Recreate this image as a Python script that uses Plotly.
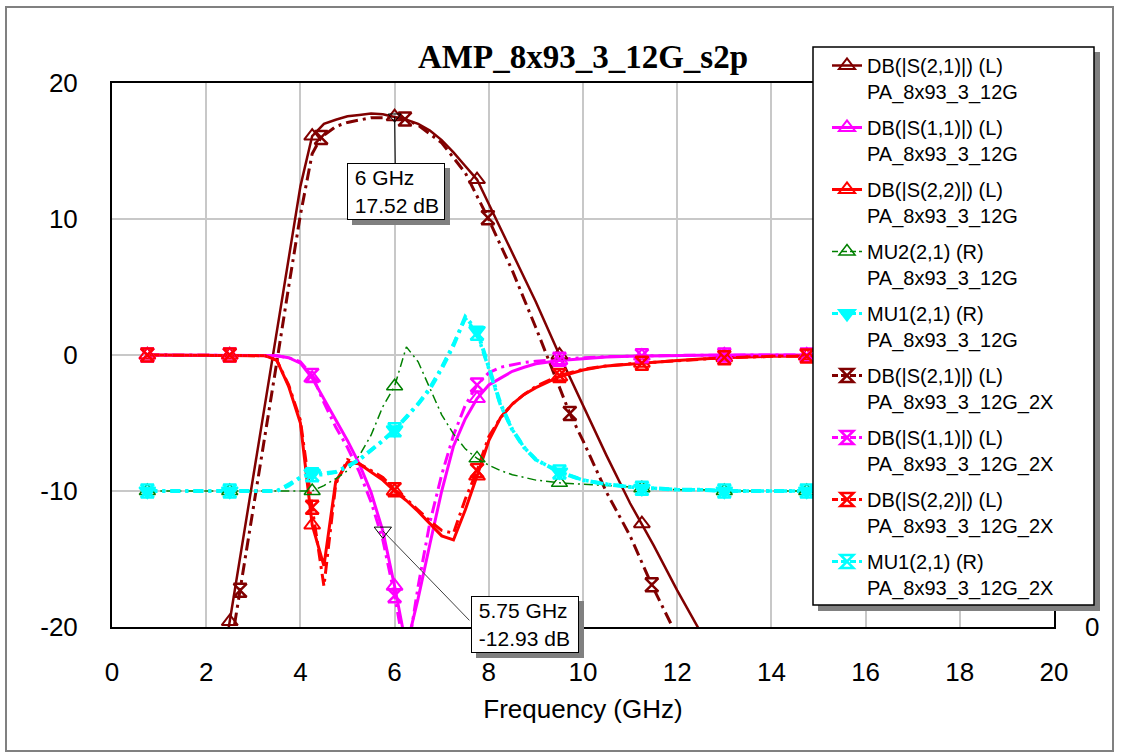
import plotly.graph_objects as go

# ---------------- data ----------------
F = [0.75, 1.5, 2.0, 2.25, 2.5, 2.75, 3.0, 3.25, 3.5, 3.75,
     4.0, 4.25, 4.5, 4.75, 5.0, 5.25, 5.5, 5.75, 6.0, 6.25,
     6.5, 6.75, 7.0, 7.25, 7.5, 7.75, 8.0, 8.25, 8.5, 8.75,
     9.0, 9.5, 10.0, 10.5, 11.0, 11.25, 11.5, 12.0, 12.5, 13.0,
     14.0, 14.75, 16.0, 16.5, 18.0, 18.25, 20.0]
MARK_F = [0.75, 2.5, 4.25, 6.0, 7.75, 9.5, 11.25, 13.0, 14.75, 16.5, 18.25, 20.0]

S21 = [-60, -42, -30, -24.9, -19.6, -14.3, -9.0, -3.7, 1.5, 6.8,
       12.4, 16.1, 17.0, 17.3, 17.55, 17.65, 17.75, 17.7, 17.52, 17.3,
       17.0, 16.5, 15.8, 14.9, 13.9, 12.9, 11.1, 9.3, 7.6, 5.75,
       3.9, 0.0, -3.7, -7.4, -10.9, -12.4, -14.0, -17.3, -20.5, -23.5,
       -29, -33, -38, -40, -45, -46, -50]
S11 = [0.0, 0.0, 0.0, 0.0, 0.0, 0.0, 0.0, 0.0, -0.05, -0.2,
       -0.6, -1.7, -3.2, -4.8, -6.3, -8.0, -10.1, -12.93, -17.0, -21.5,
       -17.9, -13.9, -10.0, -6.7, -4.7, -3.2, -2.2, -1.7, -1.2, -0.9,
       -0.65, -0.4, -0.25, -0.15, -0.1, -0.08, -0.06, -0.04, -0.02, 0.0,
       0.0, 0.0, 0.0, 0.0, 0.0, 0.0, 0.0]
S22 = [0.0, 0.0, 0.0, 0.0, 0.0, 0.0, 0.0, -0.05, -0.4, -2.3,
       -5.0, -12.5, -15.5, -9.3, -7.9, -8.0, -8.6, -9.2, -10.0, -10.7,
       -11.5, -12.4, -13.3, -13.6, -11.4, -8.9, -6.3, -4.6, -3.6, -2.9,
       -2.4, -1.6, -1.1, -0.8, -0.65, -0.6, -0.5, -0.4, -0.3, -0.2,
       -0.1, -0.08, -0.05, -0.04, -0.02, -0.02, 0.0]
MU2 = [1.0, 1.0, 1.0, 1.0, 1.0, 1.0, 1.0, 1.0, 1.0, 1.0,
       1.0, 1.0, 1.04, 1.09, 1.15, 1.26, 1.41, 1.62, 1.77, 2.06,
       1.95, 1.75, 1.56, 1.42, 1.31, 1.24, 1.19, 1.15, 1.12, 1.10,
       1.08, 1.06, 1.05, 1.04, 1.03, 1.02, 1.02, 1.01, 1.01, 1.0,
       1.0, 1.0, 1.0, 1.0, 1.0, 1.0, 1.0]
MU1 = [1.0, 1.0, 1.0, 1.0, 1.0, 1.0, 1.0, 1.0, 1.0, 1.04,
       1.10, 1.13, 1.13, 1.14, 1.18, 1.23, 1.30, 1.37, 1.45, 1.54,
       1.64, 1.75, 1.90, 2.07, 2.28, 2.18, 1.92, 1.64, 1.45, 1.32,
       1.23, 1.14, 1.08, 1.05, 1.03, 1.02, 1.02, 1.01, 1.01, 1.0,
       1.0, 1.0, 1.0, 1.0, 1.0, 1.0, 1.0]
S11_2X = [0.0, 0.0, 0.0, 0.0, 0.0, 0.0, 0.0, 0.0, -0.05, -0.2,
          -0.5, -1.5, -3.5, -5.3, -6.8, -8.6, -10.8, -13.6, -17.7, -22.5,
          -17.0, -12.3, -8.8, -5.9, -3.7, -2.2, -1.3, -0.9, -0.7, -0.55,
          -0.45, -0.32, -0.2, -0.12, -0.08, -0.06, -0.05, -0.03, -0.02, 0.0,
          0.0, 0.0, 0.0, 0.0, 0.0, 0.0, 0.0]
S22_2X = [0.0, 0.0, 0.0, 0.0, 0.0, 0.0, 0.0, -0.05, -0.4, -2.2,
          -4.8, -11.2, -17.0, -9.5, -7.7, -8.0, -8.5, -9.0, -9.9, -10.6,
          -11.4, -12.2, -12.9, -13.1, -10.6, -8.5, -6.0, -4.6, -3.6, -2.9,
          -2.3, -1.5, -1.05, -0.8, -0.65, -0.6, -0.5, -0.4, -0.3, -0.2,
          -0.1, -0.08, -0.05, -0.04, -0.02, -0.02, 0.0]
MU1_2X = [1.0, 1.0, 1.0, 1.0, 1.0, 1.0, 1.0, 1.0, 1.0, 1.05,
          1.10, 1.12, 1.12, 1.14, 1.18, 1.23, 1.30, 1.37, 1.45, 1.54,
          1.64, 1.76, 1.91, 2.08, 2.27, 2.16, 1.90, 1.63, 1.45, 1.32,
          1.23, 1.14, 1.08, 1.05, 1.03, 1.02, 1.02, 1.01, 1.01, 1.0,
          1.0, 1.0, 1.0, 1.0, 1.0, 1.0, 1.0]

F2 = [0.97, 1.5, 2.0, 2.25, 2.5, 2.72, 3.0, 3.25, 3.5, 3.75,
      4.0, 4.25, 4.44, 4.75, 5.0, 5.5, 6.0, 6.22, 6.5, 7.0,
      7.5, 7.98, 8.5, 9.0, 9.5, 9.72, 10.0, 10.5, 11.0, 11.46,
      12.0, 12.5, 13.2, 14.94, 16.68, 18.42, 20.0]
MARK_F2 = [0.97, 2.72, 4.44, 6.22, 7.98, 9.72, 11.46, 13.2, 14.94, 16.68, 18.42]
S21_2X = [-58, -45, -33, -27.5, -22.0, -17.3, -11.5, -6.0, -0.5, 5.0,
          10.3, 14.8, 16.0, 16.8, 17.1, 17.45, 17.45, 17.35, 16.9, 15.6,
          13.4, 10.1, 6.2, 2.0, -2.3, -4.3, -6.3, -10.1, -13.3, -16.9,
          -20.7, -24, -29, -37, -43, -48, -52]

Y_TICKS = [-20, -10, 0, 10, 20]
Y_TICK_TEXT = ["-20", "-10", "0", "10", "20"]
Y2_TICKS = [0]
Y2_TICK_TEXT = ["0"]

LEG_TAIL = "PA_8x93_3_12G"
LEG_TAIL_2X = "PA_8x93_3_12G_2X"

DARKRED = "#800000"
MAGENTA = "#FF00FF"
RED = "#FF0000"
GREEN = "#008000"
CYAN = "#00FFFF"

FONT = "Arial, 'Liberation Sans', sans-serif"

fig = go.Figure()

series = [
    # name, x, y, markx, color, width, dash, symbol, msize, mlw, axis
    ("DB(|S(2,1)|) (L)<br>" + LEG_TAIL, F, S21, MARK_F, DARKRED, 2.5, "solid", "triangle-up-open", 14, 2, "y"),
    ("DB(|S(1,1)|) (L)<br>" + LEG_TAIL, F, S11, MARK_F, MAGENTA, 3, "solid", "triangle-up-open", 14, 2, "y"),
    ("DB(|S(2,2)|) (L)<br>" + LEG_TAIL, F, S22, MARK_F, RED, 3, "solid", "triangle-up-open", 14, 2, "y"),
    ("MU2(2,1) (R)<br>" + LEG_TAIL, F, MU2, MARK_F, GREEN, 1.5, "9px,4px,2px,4px", "triangle-up-open", 14, 1.5, "y2"),
    ("MU1(2,1) (R)<br>" + LEG_TAIL, F, MU1, MARK_F, CYAN, 4, "10px,5px,3px,5px", "triangle-down", 14, 2, "y2"),
    ("DB(|S(2,1)|) (L)<br>" + LEG_TAIL_2X, F2, S21_2X, MARK_F2, DARKRED, 3, "12px,5px,3px,5px", "hourglass-open", 13, 2.5, "y"),
    ("DB(|S(1,1)|) (L)<br>" + LEG_TAIL_2X, F, S11_2X, MARK_F, MAGENTA, 3, "12px,5px,3px,5px", "hourglass-open", 13, 2.5, "y"),
    ("DB(|S(2,2)|) (L)<br>" + LEG_TAIL_2X, F, S22_2X, MARK_F, RED, 3, "12px,5px,3px,5px", "hourglass-open", 13, 2.5, "y"),
    ("MU1(2,1) (R)<br>" + LEG_TAIL_2X, F, MU1_2X, MARK_F, CYAN, 3.5, "10px,5px,3px,5px", "hourglass-open", 13, 2.5, "y2"),
]

# lines
for (name, x, y, mx, col, w, dash, sym, ms, mlw, ax) in series:
    fig.add_trace(go.Scatter(x=x, y=y, mode="lines", yaxis=ax, showlegend=False,
                             line=dict(color=col, width=w, dash=dash), hoverinfo="skip"))
# markers
for (name, x, y, mx, col, w, dash, sym, ms, mlw, ax) in series:
    xm = [xv for xv in x if xv in mx]
    ym = [y[i] for i, xv in enumerate(x) if xv in mx]
    fig.add_trace(go.Scatter(x=xm, y=ym, mode="markers", yaxis=ax, showlegend=False,
                             marker=dict(symbol=sym, size=ms, color=col,
                                         line=dict(color=col, width=mlw)),
                             hoverinfo="skip"))
# legend entries
for k, (name, x, y, mx, col, w, dash, sym, ms, mlw, ax) in enumerate(series):
    fig.add_trace(go.Scatter(x=[None], y=[None], mode="lines+markers", name=name, yaxis=ax,
                             legendgroup=str(k),
                             line=dict(color=col, width=w if w < 3.5 else 3,
                                       dash=dash if dash == "solid" else "6px,3px"),
                             marker=dict(symbol=sym, size=ms, color=col,
                                         line=dict(color=col, width=mlw))))

# marker readouts
i6 = F.index(6.0)
i575 = F.index(5.75)
fig.add_trace(go.Scatter(x=[F[i6]], y=[S21[i6]], mode="markers", showlegend=False,
                         marker=dict(symbol="triangle-down-open", size=11, color="black",
                                     line=dict(color="black", width=1))))
fig.add_trace(go.Scatter(x=[F[i575]], y=[S11[i575]], mode="markers", showlegend=False,
                         marker=dict(symbol="triangle-down-open", size=15, color="black",
                                     line=dict(color="black", width=1))))

txt1 = f"&nbsp;{F[i6]:g} GHz<br>&nbsp;{S21[i6]:.2f} dB"
txt2 = f"&nbsp;{F[i575]:g} GHz<br>&nbsp;{S11[i575]:.2f} dB"

annots = []
# (x, y, offset x, offset y, box width, text)
boxes = [(F[i6], S21[i6], 1, 75, 94, txt1), (F[i575], S11[i575], 142, 94, 104, txt2)]
for (xv, yv, axp, ayp, bw, txt) in boxes:
    # shadow box (no text)
    annots.append(dict(x=xv, y=yv, xref="x", yref="y", text=" ", showarrow=True,
                       arrowcolor="rgba(0,0,0,0)", ax=axp + 5, ay=ayp + 5, width=bw, height=53,
                       bgcolor="#808080", bordercolor="#808080", borderwidth=1, borderpad=1))
annots.append(dict(x=F[i575], y=S11[i575], xref="x", yref="y", text="", showarrow=True, arrowhead=0,
                   arrowcolor="#404040", arrowwidth=1, ax=88, ay=91))
for (xv, yv, axp, ayp, bw, txt) in boxes:
    annots.append(dict(x=xv, y=yv, xref="x", yref="y", text=txt, showarrow=True, arrowhead=0,
                       arrowcolor="black" if axp < 10 else "rgba(0,0,0,0)", arrowwidth=1,
                       ax=axp, ay=ayp, width=bw, height=53, align="left", valign="middle",
                       bgcolor="white", bordercolor="black", borderwidth=1, borderpad=1,
                       font=dict(family=FONT, size=21, color="black")))

L, R, T, B = 112, 68, 83, 126
W, H = 1122, 753
pw, ph = W - L - R, H - T - B


def px(xp):
    return (xp - L) / pw


def py(yp):
    return (H - B - yp) / ph


shapes = [
    dict(type="rect", xref="paper", yref="paper", x0=px(6), x1=px(1113), y0=py(751), y1=py(7),
         line=dict(color="#808080", width=2), layer="below"),
    dict(type="rect", xref="paper", yref="paper", x0=px(818), x1=px(1100), y0=py(611), y1=py(52),
         fillcolor="#808080", line=dict(width=0), layer="above"),
    dict(type="rect", xref="paper", yref="paper", x0=px(813), x1=px(1094), y0=py(605), y1=py(47),
         fillcolor="white", line=dict(color="black", width=1.5), layer="above"),
]

fig.update_layout(
    width=W, height=H,
    margin=dict(l=L, r=R, t=T, b=B, pad=0),
    paper_bgcolor="white", plot_bgcolor="white",
    font=dict(family=FONT, size=20, color="black"),
    title=dict(text="<b>AMP_8x93_3_12G_s2p</b>", x=0.5, xref="paper", xanchor="center",
               y=1 - 56 / H, yanchor="middle",
               font=dict(family="'Times New Roman', 'Liberation Serif', serif", size=33, color="black")),
    xaxis=dict(range=[0, 20], dtick=2, showgrid=True, gridcolor="#c8c8c8", gridwidth=1.5,
               zeroline=False, showline=True, linecolor="black", linewidth=2, mirror=True,
               ticks="", ticklabelstandoff=21, tickfont=dict(size=26),
               title=dict(text="Frequency (GHz)", font=dict(size=26), standoff=14)),
    yaxis=dict(range=[-20, 20], tickvals=Y_TICKS, ticktext=Y_TICK_TEXT, showgrid=True,
               gridcolor="#c8c8c8", gridwidth=1.5,
               zeroline=False, showline=True, linecolor="black", linewidth=2, mirror=True,
               ticks="", ticklabelstandoff=27, tickfont=dict(size=26)),
    yaxis2=dict(range=[0, 4], overlaying="y", side="right", tickvals=Y2_TICKS, ticktext=Y2_TICK_TEXT,
                showgrid=False, zeroline=False, showline=False, ticks="", ticklabelstandoff=30,
                tickfont=dict(size=26)),
    legend=dict(x=px(827), xanchor="left", y=py(46), yanchor="top", maxheight=600,
                bgcolor="rgba(0,0,0,0)", borderwidth=0, traceorder="grouped", tracegroupgap=7,
                valign="top", font=dict(family=FONT, size=20, color="black")),
    shapes=shapes,
    annotations=annots,
    showlegend=True,
)

fig.write_html("out.html")
